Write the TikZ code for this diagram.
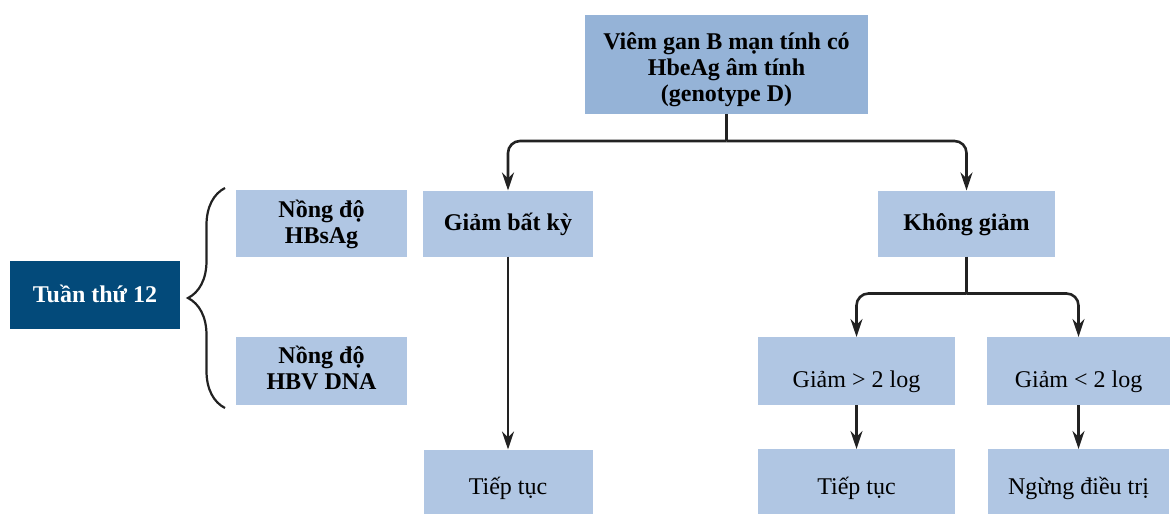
\documentclass[tikz,border=0pt]{standalone}
\usepackage{fontspec}
\setmainfont{Liberation Serif}
\usetikzlibrary{positioning, arrows.meta, decorations.pathreplacing}
\definecolor{topblue}{HTML}{95B3D7}
\definecolor{boxblue}{HTML}{B0C6E3}
\definecolor{darkblue}{HTML}{034A7A}
\definecolor{linegray}{HTML}{222222}
\tikzset{
	every node/.append style={
		inner sep=0pt,
		outer sep=0pt,
	},
	box/.append style={
		fill=boxblue,
		align = center,
		minimum height=66pt,
		font={\fontsize{24}{26}\selectfont}
	},
	boldbox/.append style={
		box,
		font={\fontsize{24}{26}\selectfont\bfseries}
	},
	txt/.style 2 args={
		text height=#1,
		text depth=#2
	},
	flow/.append style={
		draw=linegray,
		line width=2.6pt,
		rounded corners=12pt,
		-{Stealth[length=18pt, width=12pt, inset=6pt]}
	},
	stem/.append style={
		draw=linegray,
		line width=2.6pt,
	},
	bracket/.append style={
		draw=linegray,
		line width=2.2pt,
		decorate,
		decoration={brace, amplitude=37pt}
	}
}
\begin{document}
\begin{tikzpicture}[x=1pt, y=-1pt]
\useasboundingbox (0,0) rectangle (1170,514);

\node(top)[boldbox, fill=topblue, txt={80pt}{7pt}, minimum width=283pt, minimum height=99pt] at (726.5,64.5)
	{Viêm gan B mạn tính có\\HbeAg âm tính\\(genotype D)};

\node(gbk)[boldbox, txt={19pt}{6pt}, minimum width=170pt] at (508,223.5) {Giảm bất kỳ};
\node(kg)[boldbox, txt={19pt}{6pt}, minimum width=177pt] at (966.5,223.5) {Không giảm};

\node(hbs)[boldbox, txt={46pt}{7pt}, left = 16pt of gbk, minimum width=171pt, minimum height=67pt] {Nồng độ\\HBsAg};
\node(dna)[boldbox, txt={44pt}{7pt}, below = 80pt of hbs, minimum width=171pt, minimum height=68pt] {Nồng độ\\HBV DNA};
\node(tuan)[boldbox, txt={20pt}{6pt}, fill=darkblue, text=white, minimum width=170pt, minimum height=68pt] at (95,295) {Tuần thứ 12};

\node(g2)[box, txt={36pt}{4pt}, minimum width=197pt, minimum height=68pt] at (856.5,371) {Giảm > 2 log};
\node(l2)[box, txt={36pt}{4pt}, right = 32pt of g2, minimum width=183pt, minimum height=68pt] {Giảm < 2 log};

\node(tt1)[box, txt={30pt}{5pt}, below = 193pt of gbk, minimum width=169pt, minimum height=65pt] {Tiếp tục};
\node(tt2)[box, txt={30pt}{5pt}, below = 44pt of g2, minimum width=197pt, minimum height=65pt] {Tiếp tục};
\node(ngung)[box, txt={30pt}{5pt}, below = 44pt of l2, minimum width=181pt, minimum height=65pt] {Ngừng điều trị};

% branching
\coordinate[below = 27pt of top] (j1);
\coordinate[below = 37pt of kg] (j2);
\draw[stem] (top) -- (j1);
\draw[flow] (j1) -| (gbk);
\draw[flow] (j1) -| (kg);
\draw[stem] (kg) -- (j2);
\draw[flow] (j2) -| (g2);
\draw[flow] (j2) -| (l2);

\draw[flow] (gbk) -- (tt1);
\draw[flow] (g2) -- (tt2);
\draw[flow] (l2) -- (ngung);

% brace
\coordinate(bt) at (225,188);
\coordinate(bb) at (225,408);
\draw[bracket] (bb) -- (bt);
\end{tikzpicture}
\end{document}
